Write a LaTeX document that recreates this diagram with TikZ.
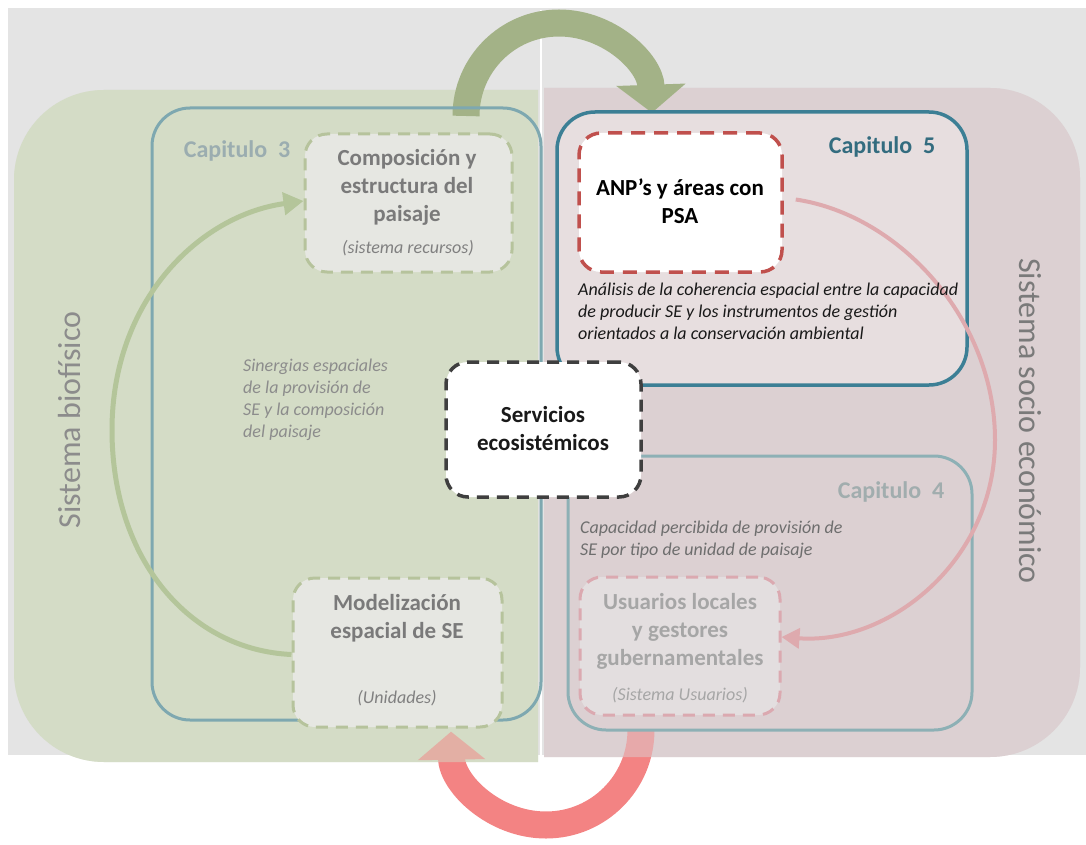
\documentclass[tikz,border=0pt]{standalone}
\usepackage{fontspec}
\setmainfont{Carlito}
\usetikzlibrary{arrows.meta}
\definecolor{bggrey}{HTML}{E4E4E4}
\definecolor{greenpanel}{HTML}{D4DCC6}
\definecolor{pinkpanel}{HTML}{DCD0D2}
\definecolor{capfivefill}{HTML}{E7DEDF}
\definecolor{capthreeline}{HTML}{7EA8B0}
\definecolor{capfiveline}{HTML}{3C7F95}
\definecolor{capfourline}{HTML}{8DB0B5}
\definecolor{greendash}{HTML}{B6C39C}
\definecolor{reddash}{HTML}{C0504D}
\definecolor{pinkdash}{HTML}{DBA9B0}
\definecolor{servdash}{HTML}{3F3F3F}
\definecolor{bigGreen}{HTML}{A3B287}
\definecolor{bigRed}{HTML}{F38383}
\definecolor{thinGreen}{HTML}{B4C59A}
\definecolor{thinPink}{HTML}{DEAAAE}
\definecolor{greyboxfill}{HTML}{E6E7E2}
\definecolor{pinkboxfill}{HTML}{E3DEDF}
\newcommand{\greenpanelpath}{(538,90) -- (104,90) arc[start angle=270, end angle=180, radius=90]
  -- (14,672) arc[start angle=180, end angle=90, radius=90] -- (538,762) -- cycle}
\newcommand{\pinkpanelpath}{(544,88) -- (990,88) arc[start angle=270, end angle=360, radius=90]
  -- (1080,667) arc[start angle=0, end angle=90, radius=90] -- (544,757) -- cycle}
\begin{document}
\begin{tikzpicture}[x=1pt,y=-1pt,
  chapbox/.style={draw, rectangle, rounded corners=38pt, line width=3pt, inner sep=0pt},
  dbox/.style={draw, rectangle, rounded corners=22pt, dash pattern=on 12pt off 8pt, line width=3pt, inner sep=0pt},
  ttl/.style={font=\fontsize{23}{28}\selectfont\bfseries, align=center, inner sep=0pt},
  chaplbl/.style={font=\fontsize{24}{28}\selectfont\bfseries, inner sep=0pt},
  itl/.style={font=\fontsize{18}{22}\selectfont\itshape, inner sep=0pt},
  sidelbl/.style={font=\fontsize{32}{36}\selectfont, text=black!45, inner sep=0pt},
  bigarrow/.style={line width=27pt},
  thinarrow/.style={line width=5pt}
]
\useasboundingbox (0,0) rectangle (1086,845);
% background
\fill[bggrey] (8,8) rectangle (1086,755);
\draw[white, line width=2pt] (541,10) -- (541,757);
% panels
\fill[greenpanel] \greenpanelpath;
\fill[pinkpanel] \pinkpanelpath;

% big red arrow, faded where it lies on the panels
\coordinate (rstart) at (641,730);
\draw[bigarrow, bigRed, -{Triangle[width=66pt,length=28pt]}] (rstart) arc[start angle=0, end angle=179, radius=95];
\fill[greenpanel, opacity=0.5] \greenpanelpath;
\fill[pinkpanel, opacity=0.5] \pinkpanelpath;

% big green arrow
\coordinate (gstart) at (466,116);
\draw[bigarrow, bigGreen, -{Triangle[width=68pt,length=28pt]}] (gstart) arc[start angle=180, end angle=358, radius=93];

% chapter boxes
\node[chapbox, draw=capthreeline, minimum width=389pt, minimum height=612pt] (cap3) at (346.5,414) {};
\node[chapbox, draw=capfiveline, fill=capfivefill, line width=3.5pt, minimum width=410pt, minimum height=273pt] (cap5) at (762,248.5) {};
\node[chapbox, draw=capfourline, minimum width=404pt, minimum height=274pt] (cap4) at (770,593) {};

% inner boxes
\node[dbox, draw=greendash, fill=greyboxfill, minimum width=207pt, minimum height=138pt] (comp) at (408.5,203) {};
\node[dbox, draw=reddash, fill=white, line width=3.5pt, dash pattern=on 14pt off 9pt, minimum width=203pt, minimum height=139pt] (anp) at (680.5,202.5) {};
\node[dbox, draw=greendash, fill=greyboxfill, minimum width=209pt, minimum height=149pt] (model) at (397.5,652.5) {};
\node[dbox, draw=pinkdash, fill=pinkboxfill, minimum width=200pt, minimum height=138pt] (usu) at (680,646) {};
\node[dbox, draw=servdash, fill=white, line width=3.5pt, minimum width=195pt, minimum height=135pt] (serv) at (543.5,429.5) {};

% thin cycle arrows
\draw[thinarrow, thinGreen, -{Triangle[width=22pt,length=20pt]}]
  ([yshift=-2pt]model.west) .. controls (190,650) and (112,560) .. (112,430)
  .. controls (112,300) and (200,215) .. ([yshift=2pt]comp.west);
\draw[line width=4pt, thinPink, -{Triangle[width=20pt,length=18pt]}]
  ([xshift=12pt,yshift=3pt]anp.east) .. controls (900,215) and (995,320) .. (995,440)
  .. controls (995,560) and (890,645) .. ([yshift=9pt]usu.east);

% chapter labels
\node[chaplbl, text=capthreeline!70!black!60] (lbl3) at (237,151) {Capitulo\ \ 3};
\node[chaplbl, text=capfiveline!85!black] (lbl5) at (882,147) {Capitulo\ \ 5};
\node[chaplbl, text=capfourline!60!black!55] (lbl4) at (891,492) {Capitulo\ \ 4};

% box texts
\node[ttl, text=black!52] (comptxt) at (407,187) {Composición y\\estructura del\\paisaje};
\node[itl, text=black!50] (compsub) at (408,248) {(sistema recursos)};
\node[ttl, text=black] (anptxt) at (680,201) {ANP’s y áreas con\\PSA};
\node[ttl, text=black!90] (servtxt) at (543,429) {Servicios\\ecosistémicos};
\node[ttl, text=black!52] (modeltxt) at (397,618) {Modelización\\espacial de SE};
\node[itl, text=black!50] (modelsub) at (397,698) {(Unidades)};
\node[ttl, text=black!35] (usutxt) at (680,631) {Usuarios locales\\y gestores\\gubernamentales};
\node[itl, text=black!35] (usussub) at (680,695) {(Sistema Usuarios)};

% descriptive texts
\node[itl, text=black!90, anchor=west, align=left] (analisis) at (578,311)
  {Análisis de la coherencia espacial entre la capacidad\\de producir SE y los instrumentos de gestión\\orientados a la conservación ambiental};
\node[itl, text=black!45, anchor=west, align=left] (sinerg) at (243,400)
  {Sinergias espaciales\\de la provisión de\\SE y la composición\\del paisaje};
\node[itl, text=black!57, anchor=west, align=left] (capac) at (580,540)
  {Capacidad percibida de provisión de\\SE por tipo de unidad de paisaje};

% side labels
\node[sidelbl, rotate=90] (biof) at (70,420) {Sistema biofísico};
\node[sidelbl, rotate=-90, text=black!52] (socio) at (1030,421) {Sistema socio económico};
\end{tikzpicture}
\end{document}
